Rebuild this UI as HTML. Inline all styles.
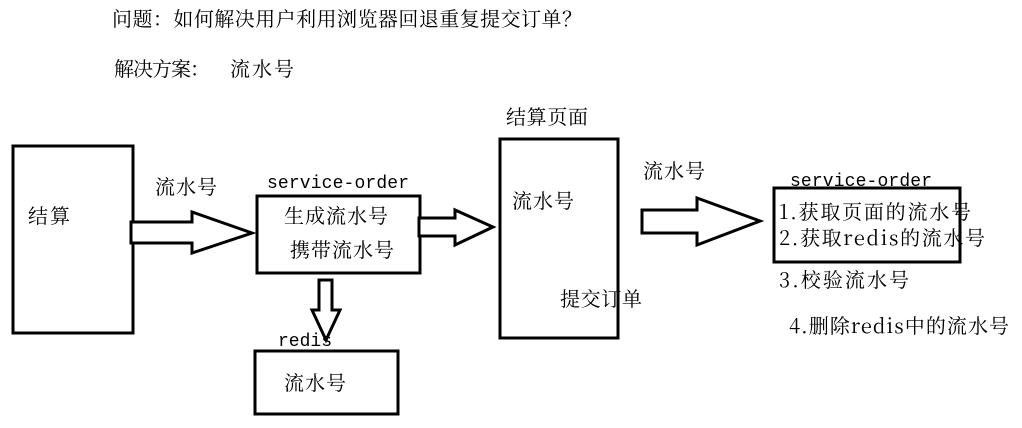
<!DOCTYPE html>
<html><head><meta charset="utf-8"><style>
html,body{margin:0;padding:0;background:#fff;}
svg{display:block;}
text{font-family:"Noto Serif CJK SC","Noto Sans CJK SC",serif;font-size:20px;fill:#000;}
.m{font-family:"Liberation Mono",monospace;font-size:18px;}
</style></head><body>
<svg width="1022" height="428" viewBox="0 0 1022 428" xmlns="http://www.w3.org/2000/svg">
<g fill="none" stroke="#000" stroke-width="3">
<rect x="13" y="146" width="120" height="187"/>
<rect x="257" y="196" width="163" height="77"/>
<rect x="255" y="351" width="143" height="63"/>
<rect x="500" y="139" width="118" height="199"/>
<rect x="774" y="188" width="186" height="74"/>
<polygon points="131,222 192,222 192,212 252,233 192,253 192,243 131,243" fill="#fff"/>
<polygon points="419,218 455,218 455,210 493,227 455,245 455,236 419,236" fill="#fff"/>
<polygon points="319,280 332,280 332,310 340,310 326,340 312,310 319,310" fill="#fff"/>
<polygon points="642,210 697,210 697,198 760,221 697,245 697,233 642,233" fill="#fff"/>
</g>
<text x="112" y="26" textLength="470">问题：如何解决用户利用浏览器回退重复提交订单？</text>
<text x="114" y="76" textLength="96">解决方案：</text>
<text x="230" y="76" textLength="64">流水号</text>
<text x="28" y="223" textLength="42">结算</text>
<text x="155" y="194" textLength="62">流水号</text>
<text class="m" x="267" y="188" textLength="142">service-order</text>
<text x="284" y="223" textLength="104">生成流水号</text>
<text x="290" y="257" textLength="104">携带流水号</text>
<text class="m" x="278" y="346" textLength="54">redis</text>
<text x="284" y="390" textLength="62">流水号</text>
<text x="506" y="124" textLength="82">结算页面</text>
<text x="512" y="208" textLength="62">流水号</text>
<text x="560" y="306" textLength="82">提交订单</text>
<text x="643" y="178" textLength="62">流水号</text>
<text class="m" x="790" y="186" textLength="142">service-order</text>
<text x="779" y="219" textLength="192">1.获取页面的流水号</text>
<text x="779" y="245" textLength="206">2.获取redis的流水号</text>
<text x="779" y="287" textLength="130">3.校验流水号</text>
<text x="789" y="333" textLength="220">4.删除redis中的流水号</text>
</svg>
</body></html>
